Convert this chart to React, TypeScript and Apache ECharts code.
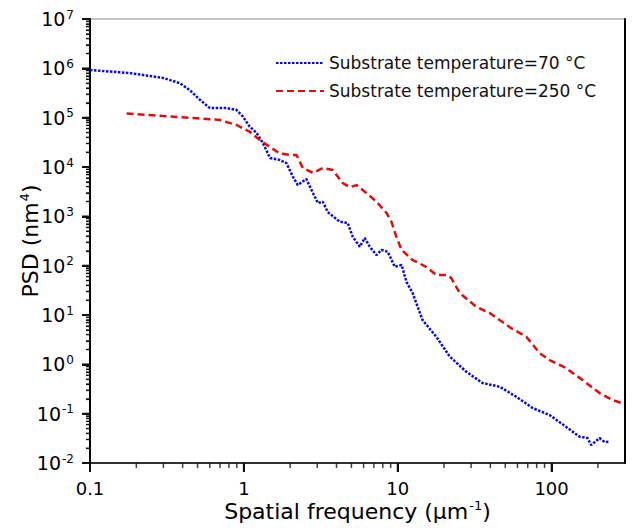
import React, { useEffect, useRef } from 'react';
import * as echarts from 'echarts';

// Axis ranges
const xMin = 0.1;
const xMax = 300;
const yMin = 0.01;
const yMax = 1e7;

// Series: substrate temperature = 70 °C (blue, dotted)
const blueFreq = [0.1, 0.182, 0.298, 0.384, 0.446, 0.518, 0.601, 0.773, 0.897, 0.986, 1.09, 1.21, 1.33, 1.48, 1.71, 1.89, 2.08, 2.24, 2.55, 2.81, 3.03, 3.26, 3.51, 4.2, 4.73, 5.1, 5.67, 6.1, 6.58, 7.27, 7.84, 8.61, 9.57, 10.6, 11.4, 12.5, 13.5, 14.5, 17.8, 21.8, 27.9, 35.6, 45.9, 59, 75.3, 97, 124, 152, 171, 181, 205, 221, 238];
const bluePsd = [9.25e5, 8.0e5, 6.4e5, 5.0e5, 3.6e5, 2.3e5, 1.57e5, 1.57e5, 1.43e5, 1.05e5, 6.6e4, 4.9e4, 3.06e4, 1.52e4, 1.39e4, 1.2e4, 6.4e3, 4.3e3, 5.7e3, 2.97e3, 1.86e3, 1.98e3, 1.22e3, 778, 733, 386, 242, 364, 242, 164, 208, 192, 95, 103, 46.7, 27.9, 14.5, 7.9, 3.63, 1.43, 0.708, 0.418, 0.352, 0.22, 0.13, 0.094, 0.0543, 0.0341, 0.0321, 0.0231, 0.032, 0.0266, 0.027];

// Series: substrate temperature = 250 °C (red, dashed)
const redFreq = [0.173, 0.298, 0.493, 0.698, 0.897, 1.09, 1.27, 1.48, 1.71, 1.99, 2.2, 2.42, 2.81, 3.26, 3.78, 4.4, 4.88, 5.39, 6.26, 7.27, 8.45, 9.1, 9.8, 10.6, 12.5, 15.3, 17.8, 20.7, 22.3, 25.3, 32.4, 39.6, 45.9, 53.3, 68.5, 83.6, 97, 124, 159, 205, 249, 285];
const redPsd = [1.22e5, 1.08e5, 9.7e4, 8.97e4, 7.1e4, 5.2e4, 3.5e4, 2.54e4, 1.89e4, 1.75e4, 1.75e4, 9.5e3, 7.6e3, 9.5e3, 8.7e3, 4.7e3, 3.9e3, 4.3e3, 2.97e3, 1.98e3, 1.17e3, 778, 386, 208, 130, 95, 64.6, 64.6, 56, 27.9, 14.7, 11, 7.9, 5.7, 3.63, 1.69, 1.22, 0.84, 0.48, 0.262, 0.189, 0.164];

// Tick values
const xMajorTickValues = [0.1, 1, 10, 100];
const xMinorTickValues = [0.2, 0.3, 0.4, 0.5, 0.6, 0.7, 0.8, 0.9, 2, 3, 4, 5, 6, 7, 8, 9, 20, 30, 40, 50, 60, 70, 80, 90, 200];
const yDecadeExponents = [-2, -1, 0, 1, 2, 3, 4, 5, 6, 7];
const yMinorMultipliers = [2, 3, 4, 5, 6, 7, 8, 9];

const seriesNames = ['Substrate temperature=70 °C', 'Substrate temperature=250 °C'];
const xTitle = 'Spatial frequency (μm{sup|-1})';
const yTitle = 'PSD (nm{sup|4})';

const tickColor = '#101010';

export default function App() {
  const ref = useRef<HTMLDivElement>(null);
  useEffect(() => {
    document.body.style.margin = '0';
    const chart = echarts.init(ref.current as HTMLDivElement, null, { renderer: 'svg' });
    const font = '"DejaVu Sans", Verdana, sans-serif';
    const supSmall = { sup: { fontSize: 12, fontFamily: font, color: '#000', padding: [0, 0, 9, 1] } };

    const yMajorTicks = yDecadeExponents.map((e) => [xMin, Math.pow(10, e)]);
    const yMinorTicks: number[][] = [];
    yDecadeExponents.slice(0, -1).forEach((e) => yMinorMultipliers.forEach((m) => yMinorTicks.push([xMin, m * Math.pow(10, e)])));
    const tickSeries = (data: number[][], size: number[], offset: number[]) => ({
      type: 'scatter',
      silent: true,
      clip: false,
      symbol: 'rect',
      symbolSize: size,
      symbolOffset: offset,
      itemStyle: { color: tickColor },
      data,
      z: 5,
    });

    chart.setOption({
      animation: false,
      backgroundColor: '#ffffff',
      textStyle: { fontFamily: font },
      grid: { left: 90, right: 9, top: 19, bottom: 65, show: true, borderColor: '#8a8a8a', borderWidth: 1, outerBoundsMode: 'none' },
      legend: {
        orient: 'vertical',
        left: 270,
        top: 48,
        itemWidth: 48,
        itemHeight: 12,
        itemGap: 8,
        data: seriesNames,
        itemStyle: { opacity: 0 },
        textStyle: { fontSize: 17, color: '#111', fontFamily: font, lineHeight: 20 },
      },
      xAxis: [{
        type: 'log',
        min: xMin,
        max: xMax,
        axisLine: { show: true, lineStyle: { color: '#000', width: 1.5 } },
        axisTick: { show: true, length: 9, lineStyle: { color: tickColor, width: 2 } },
        splitLine: { show: false },
        axisLabel: { fontSize: 18, color: '#000', margin: 16, showMaxLabel: false, formatter: (v: number) => `${v}` },
      }],
      yAxis: [{
        type: 'log',
        min: yMin,
        max: yMax,
        axisLine: { show: true, lineStyle: { color: '#000', width: 2 } },
        axisTick: { show: true, length: 8, lineStyle: { color: tickColor, width: 2 } },
        minorTick: { show: true, splitNumber: 9, length: 4, lineStyle: { color: tickColor, width: 1.2 } },
        splitLine: { show: false },
        axisLabel: {
          fontSize: 19, color: '#000', margin: 16,
          formatter: (v: number) => `10{sup|${Math.round(Math.log10(v))}}`,
          rich: supSmall,
        },
      }, {
        type: 'log',
        min: yMin,
        max: yMax,
        position: 'right',
        axisLine: { show: true, lineStyle: { color: '#000', width: 2 } },
        axisTick: { show: false },
        axisLabel: { show: false },
        splitLine: { show: false },
      }],
      series: [
        {
          name: seriesNames[0],
          type: 'line',
          symbol: 'none',
          data: blueFreq.map((f, i) => [f, bluePsd[i]]),
          lineStyle: { color: '#0a0ad8', width: 2.5, type: [2.5, 1.5] },
          itemStyle: { color: '#0a0ad8' },
        },
        {
          name: seriesNames[1],
          type: 'line',
          symbol: 'none',
          data: redFreq.map((f, i) => [f, redPsd[i]]),
          lineStyle: { color: '#e30b0b', width: 2.5, type: [7, 4] },
          itemStyle: { color: '#e30b0b' },
        },
        tickSeries(yMajorTicks, [8, 2], [-4, 0]),
        tickSeries(yMinorTicks, [4, 1.3], [-2, 0]),
        tickSeries(xMajorTickValues.map((v) => [v, yMin]), [2, 9], [0, 4.5]),
        tickSeries(xMinorTickValues.map((v) => [v, yMin]), [1.5, 5], [0, 2.5]),
      ],
    });

    // Axis titles, placed from the axes' own scales
    const gx0 = chart.convertToPixel({ xAxisIndex: 0 }, xMin) as number;
    const gx1 = chart.convertToPixel({ xAxisIndex: 0 }, xMax) as number;
    const gy0 = chart.convertToPixel({ yAxisIndex: 0 }, yMin) as number;
    const gy1 = chart.convertToPixel({ yAxisIndex: 0 }, yMax) as number;
    chart.setOption({
      graphic: [
        {
          type: 'text', z: 50, x: (gx0 + gx1) / 2, y: gy0 + 48,
          style: { text: xTitle, align: 'center', verticalAlign: 'middle', fontSize: 22, fontFamily: font, fill: '#000',
            rich: { sup: { fontSize: 13, fontFamily: font, fill: '#000', padding: [0, 0, 11, 1] } } },
        },
        {
          type: 'text', z: 50, x: gx0 - 60, y: (gy0 + gy1) / 2, rotation: Math.PI / 2,
          style: { text: yTitle, align: 'center', verticalAlign: 'middle', fontSize: 22, fontFamily: font, fill: '#000',
            rich: { sup: { fontSize: 13, fontFamily: font, fill: '#000', padding: [0, 0, 11, 1] } } },
        },
      ],
    });

    return () => chart.dispose();
  }, []);
  return <div ref={ref} style={{ position: 'fixed', left: 0, top: 0, width: 634, height: 528 }} />;
}
